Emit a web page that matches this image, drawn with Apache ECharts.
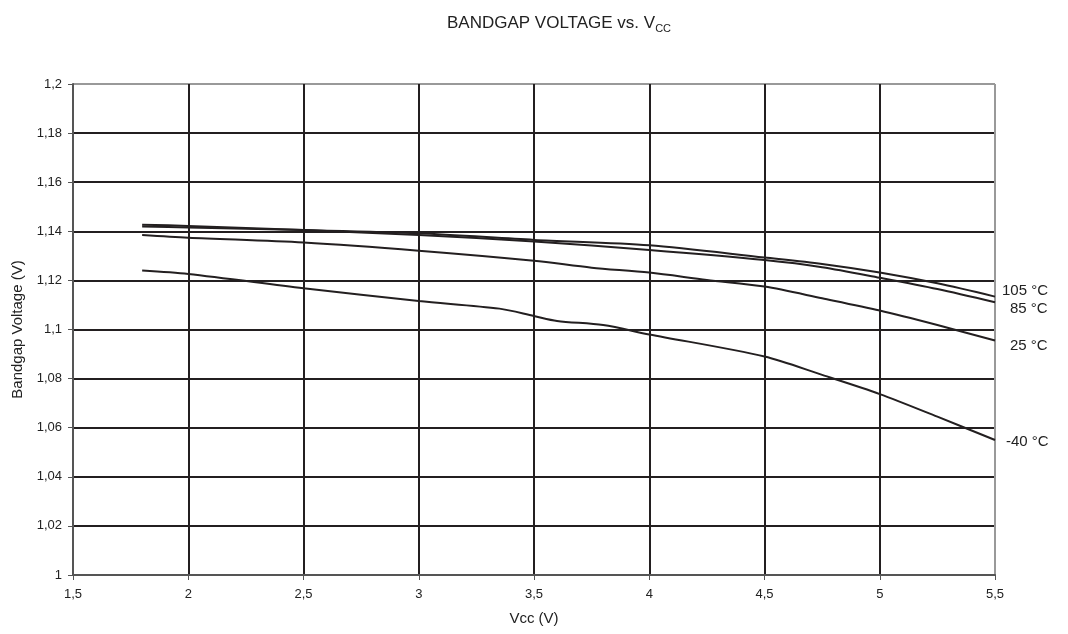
<!DOCTYPE html>
<html>
<head>
<meta charset="utf-8">
<script src="https://cdn.jsdelivr.net/npm/echarts@6/dist/echarts.min.js"></script>
<style>
  html, body { margin: 0; padding: 0; background: #fff; }
  #chart { width: 1068px; height: 634px; }
</style>
</head>
<body>
<div id="chart"></div>
<script>
// Vcc (V) and bandgap voltage (V)
const vcc = [1.8, 2.0, 2.5, 3.0, 3.5, 4.0, 4.5, 4.75, 5.0, 5.25, 5.5];
const vbg105 = [1.1420, 1.1415, 1.1405, 1.1392, 1.1365, 1.1343, 1.1293, 1.1267, 1.1232, 1.1188, 1.1134];
const vbg85  = [1.1427, 1.1422, 1.1405, 1.1385, 1.1358, 1.1324, 1.1283, 1.1254, 1.1211, 1.1165, 1.1111];

const vcc25 = [1.8, 2.0, 2.5, 3.0, 3.5, 3.75, 4.0, 4.25, 4.5, 4.75, 5.0, 5.25, 5.5];
const vbg25 = [1.1385, 1.1374, 1.1354, 1.1321, 1.1280, 1.1252, 1.1232, 1.1202, 1.1175, 1.1127, 1.1077, 1.1018, 1.0955];

const vccM40 = [1.8, 2.0, 2.5, 3.0, 3.35, 3.5, 3.6, 3.8, 4.0, 4.5, 4.75, 5.0, 5.25, 5.5];
const vbgM40 = [1.1240, 1.1226, 1.1168, 1.1116, 1.1085, 1.1055, 1.1035, 1.1018, 1.0980, 1.0890, 1.0815, 1.0737, 1.0645, 1.0550];

const seriesNames = ['105 °C', '85 °C', '25 °C', '-40 °C'];

function pairs(xs, ys) {
  return xs.map((x, i) => [x, ys[i]]);
}
function comma(v, d) {
  return String(+v.toFixed(d)).replace('.', ',');
}

const myChart = echarts.init(document.getElementById('chart'));

const ink = '#231f20';
const labelOffsets = [[2, -6], [10, 7], [10, 5], [6, 2]];
const datasets = [pairs(vcc, vbg105), pairs(vcc, vbg85), pairs(vcc25, vbg25), pairs(vccM40, vbgM40)];

const ySplitColors = [];
for (let i = 0; i < 10; i++) ySplitColors.push(ink);
ySplitColors.push('#999');
const xSplitColors = [];
for (let i = 0; i < 8; i++) xSplitColors.push(ink);
xSplitColors.push('#999');

const option = {
  animation: false,
  backgroundColor: '#fff',
  textStyle: { fontFamily: 'Liberation Sans, Arial, sans-serif' },
  title: {
    text: '{a|BANDGAP VOLTAGE vs. V}{b|CC}',
    left: 442,
    top: 8,
    textStyle: {
      fontWeight: 'normal',
      rich: {
        a: { fontSize: 17, color: '#222', fontWeight: 'normal', fontFamily: 'Liberation Sans' },
        b: { fontSize: 11, color: '#222', fontWeight: 'normal', fontFamily: 'Liberation Sans', padding: [10, 0, 0, 0] }
      }
    }
  },
  grid: { left: 73, right: 73, top: 84, bottom: 59, containLabel: false },
  xAxis: {
    type: 'value',
    min: 1.5,
    max: 5.5,
    interval: 0.5,
    name: 'Vcc (V)',
    nameLocation: 'middle',
    nameGap: 36,
    nameTextStyle: { fontSize: 15, color: '#222' },
    axisLine: { lineStyle: { color: '#555', width: 2 } },
    axisTick: { show: true, length: 5, lineStyle: { color: '#555' } },
    axisLabel: { fontSize: 13, color: '#222', margin: 13, formatter: v => comma(v, 1) },
    splitLine: { show: true, lineStyle: { color: xSplitColors, width: 2 } }
  },
  yAxis: {
    type: 'value',
    min: 1.0,
    max: 1.2,
    interval: 0.02,
    name: 'Bandgap Voltage (V)',
    nameLocation: 'middle',
    nameGap: 46,
    nameTextStyle: { fontSize: 15, color: '#222' },
    axisLine: { show: true, lineStyle: { color: '#555', width: 2 } },
    axisTick: { show: true, length: 5, lineStyle: { color: '#555' } },
    axisLabel: { fontSize: 13, color: '#222', margin: 11, formatter: v => comma(v, 2) },
    splitLine: { show: true, lineStyle: { color: ySplitColors, width: 2 } }
  },
  series: seriesNames.map((name, i) => ({
    name: name,
    type: 'line',
    data: datasets[i],
    smooth: 0.3,
    showSymbol: false,
    lineStyle: { color: ink, width: 2 },
    endLabel: {
      show: true,
      formatter: name,
      fontSize: 15,
      color: '#222',
      distance: 5,
      offset: labelOffsets[i]
    }
  }))
};

myChart.setOption(option);
</script>
</body>
</html>
